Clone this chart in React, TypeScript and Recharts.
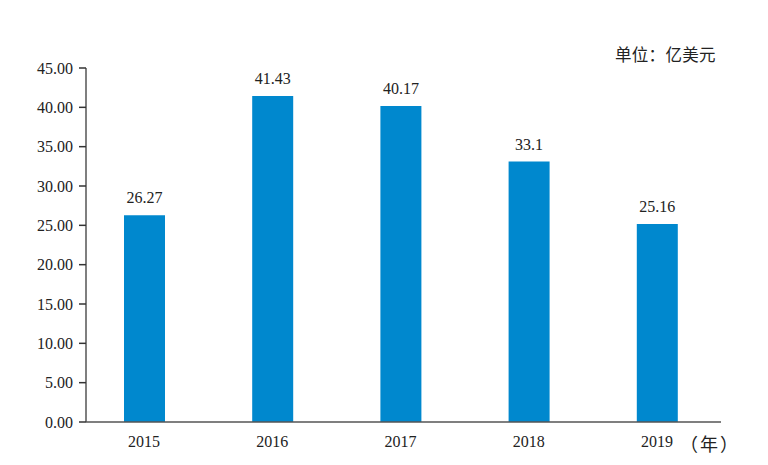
import React from "react";
import { BarChart, Bar, XAxis, YAxis, LabelList } from "recharts";

const years = ["2015", "2016", "2017", "2018", "2019"];
const values = [26.27, 41.43, 40.17, 33.1, 25.16];
const yTicks = [0, 5, 10, 15, 20, 25, 30, 35, 40, 45];

const data = years.map((y, i) => ({ year: y, value: values[i] }));

const serif = "Liberation Serif, Times New Roman, DejaVu Serif, serif";
const cjk = "Noto Sans CJK SC, sans-serif";

export default function App() {
  return (
    <div style={{ position: "relative", width: 752, height: 450, fontFamily: serif }}>
      <BarChart
        width={752}
        height={450}
        data={data}
        margin={{ top: 60, right: 39, bottom: 6, left: 8 }}
        style={{ fontFamily: serif }}
      >
        <XAxis
          dataKey="year"
          height={30}
          padding={{ left: -6, right: 0 }}
          tickLine={false}
          tickSize={0}
          tickMargin={14}
          axisLine={{ stroke: "#555", strokeWidth: 1.5 }}
          tick={{ fill: "#222", fontSize: 16, fontFamily: serif, style: { fontFamily: serif } }}
        />
        <YAxis
          width={70}
          domain={[0, 45]}
          ticks={yTicks}
          interval={0}
          tickFormatter={(v: number) => v.toFixed(2)}
          tickSize={7}
          tickMargin={6}
          axisLine={{ stroke: "#555", strokeWidth: 1.5 }}
          tickLine={{ stroke: "#333", strokeWidth: 1.5 }}
          tick={{ fill: "#222", fontSize: 16, fontFamily: serif, style: { fontFamily: serif } }}
        />
        <Bar dataKey="value" fill="#0088ce" barSize={41} isAnimationActive={false}>
          <LabelList
            dataKey="value"
            position="top"
            offset={12}
            style={{ fill: "#222", fontSize: 16, fontFamily: serif }}
          />
        </Bar>
      </BarChart>
      <div
        style={{
          position: "absolute",
          left: 607,
          top: 34,
          fontFamily: cjk,
          fontSize: 16.5,
          letterSpacing: 0.3,
          color: "#222",
          whiteSpace: "nowrap",
        }}
      >
        单位：亿美元
      </div>
      <div
        style={{
          position: "absolute",
          left: 672,
          top: 422,
          fontFamily: cjk,
          fontSize: 18,
          letterSpacing: 2,
          color: "#222",
          whiteSpace: "nowrap",
        }}
      >
        （年）
      </div>
    </div>
  );
}
